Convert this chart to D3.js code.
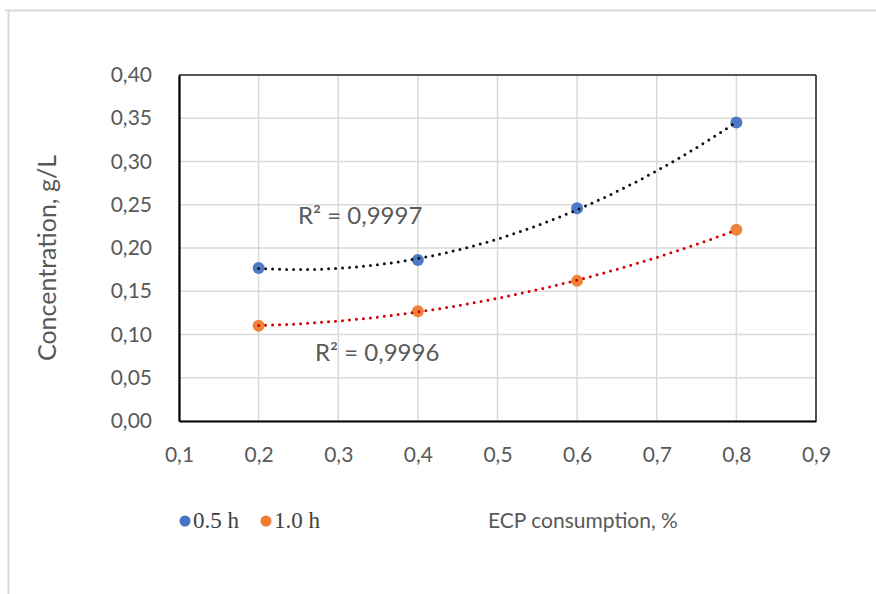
<!DOCTYPE html>
<html>
<head>
<meta charset="utf-8">
<script src="https://cdn.jsdelivr.net/npm/d3@7"></script>
<style>
  html, body { margin: 0; padding: 0; background: #fff; }
  svg { display: block; }
</style>
</head>
<body>
<svg id="chart" width="876" height="594"></svg>
<script>
// ---- data ----
const xValues = [0.2, 0.4, 0.6, 0.8];
const series05 = [0.177, 0.186, 0.246, 0.345];
const series10 = [0.110, 0.127, 0.162, 0.221];
const seriesNames = ["0.5 h", "1.0 h"];
const r2Labels = ["R² = 0,9997", "R² = 0,9996"];
const xTicks = [0.1, 0.2, 0.3, 0.4, 0.5, 0.6, 0.7, 0.8, 0.9];
const yTicks = [0, 0.05, 0.10, 0.15, 0.20, 0.25, 0.30, 0.35, 0.40];
const xTitle = "ECP consumption, %";
const yTitle = "Concentration, g/L";

const svg = d3.select("#chart");
const pLeft = 179, pRight = 816, pTop = 75, pBottom = 421;
const x = d3.scaleLinear().domain([0.1, 0.9]).range([pLeft, pRight]);
const y = d3.scaleLinear().domain([0, 0.4]).range([pBottom, pTop]);
const txt = "#595959";
const font = "Lato, 'Open Sans', sans-serif";

// outer frame
svg.append("path").attr("d", "M5,10.5 H900 M8.5,10 V620")
  .attr("stroke", "#d9d9d9").attr("stroke-width", 2).attr("fill", "none");

// grid
svg.append("g").selectAll("line").data(xTicks).join("line")
  .attr("x1", d => x(d)).attr("x2", d => x(d)).attr("y1", pTop).attr("y2", pBottom)
  .attr("stroke", "#d9d9d9").attr("stroke-width", 1.5);
svg.append("g").selectAll("line").data(yTicks).join("line")
  .attr("x1", pLeft).attr("x2", pRight).attr("y1", d => y(d)).attr("y2", d => y(d))
  .attr("stroke", "#d9d9d9").attr("stroke-width", 1.5);

// plot border
svg.append("line").attr("x1", pLeft).attr("x2", pRight).attr("y1", pTop).attr("y2", pTop)
  .attr("stroke", "#555").attr("stroke-width", 2);
svg.append("line").attr("x1", pRight).attr("x2", pRight).attr("y1", pTop).attr("y2", pBottom)
  .attr("stroke", "#222").attr("stroke-width", 1.5);

// axes
const xAxis = svg.append("g").attr("transform", `translate(0,${pBottom})`)
  .call(d3.axisBottom(x).tickValues(xTicks).tickSize(0).tickPadding(26)
    .tickFormat(d => d3.format(".1f")(d).replace(".", ",")));
const yAxis = svg.append("g").attr("transform", `translate(${pLeft},0)`)
  .call(d3.axisLeft(y).tickValues(yTicks).tickSize(0).tickPadding(27)
    .tickFormat(d => d3.format(".2f")(d).replace(".", ",")));
[xAxis, yAxis].forEach(g => {
  g.select(".domain").attr("stroke", "#000").attr("stroke-width", 2.2);
  g.selectAll("text").attr("fill", txt).attr("font-family", font).attr("font-size", 21);
});

// quadratic trendlines (least squares)
function quadFit(xs, ys) {
  const n = xs.length;
  let s = [0,0,0,0,0], t = [0,0,0];
  for (let i = 0; i < n; i++) {
    const xi = xs[i], yi = ys[i];
    for (let k = 0; k < 5; k++) s[k] += Math.pow(xi, k);
    for (let k = 0; k < 3; k++) t[k] += yi * Math.pow(xi, k);
  }
  const A = [[s[0], s[1], s[2], t[0]], [s[1], s[2], s[3], t[1]], [s[2], s[3], s[4], t[2]]];
  for (let i = 0; i < 3; i++) {
    for (let j = i + 1; j < 3; j++) {
      const f = A[j][i] / A[i][i];
      for (let k = i; k < 4; k++) A[j][k] -= f * A[i][k];
    }
  }
  const c = [0,0,0];
  for (let i = 2; i >= 0; i--) {
    let v = A[i][3];
    for (let k = i + 1; k < 3; k++) v -= A[i][k] * c[k];
    c[i] = v / A[i][i];
  }
  return xv => c[0] + c[1] * xv + c[2] * xv * xv;
}
const line = d3.line().x(d => x(d[0])).y(d => y(d[1])).curve(d3.curveLinear);
const xs = d3.range(0.2, 0.8001, 0.005);

// points
const colors = ["#4472c4", "#ed7d31"];
[series05, series10].forEach((ys, si) => {
  svg.append("g").selectAll("circle").data(xValues.map((v, i) => [v, ys[i]])).join("circle")
    .attr("cx", d => x(d[0])).attr("cy", d => y(d[1])).attr("r", 6)
    .attr("fill", colors[si]).attr("opacity", 0.95);
});
// trendlines on top of markers
[[series05, "#111"], [series10, "#d40000"]].forEach(([ys, col]) => {
  const f = quadFit(xValues, ys);
  svg.append("path").datum(xs.map(v => [v, f(v)])).attr("d", line)
    .attr("fill", "none").attr("stroke", col).attr("stroke-width", 3)
    .attr("stroke-linecap", "round").attr("stroke-dasharray", "0,7");
});

// R² labels
svg.append("text").attr("x", 298).attr("y", 224).text(r2Labels[0])
  .attr("fill", txt).attr("font-family", font).attr("font-size", 24);
svg.append("text").attr("x", 315).attr("y", 361).text(r2Labels[1])
  .attr("fill", txt).attr("font-family", font).attr("font-size", 24);

// y title
svg.append("text").attr("transform", "translate(56,258) rotate(-90)")
  .attr("text-anchor", "middle").text(yTitle)
  .attr("fill", txt).attr("font-family", font).attr("font-size", 25);
// x title
svg.append("text").attr("x", 488).attr("y", 528).text(xTitle)
  .attr("fill", txt).attr("font-family", font).attr("font-size", 21);

// legend
const legX = [185, 266];
seriesNames.forEach((nm, i) => {
  svg.append("circle").attr("cx", legX[i]).attr("cy", 521).attr("r", 5.5).attr("fill", colors[i]);
  svg.append("text").attr("x", legX[i] + 8).attr("y", 528).text(nm)
    .attr("fill", "#404040").attr("font-family", "'Liberation Serif', 'DejaVu Serif', serif")
    .attr("font-size", 23);
});
</script>
</body>
</html>
